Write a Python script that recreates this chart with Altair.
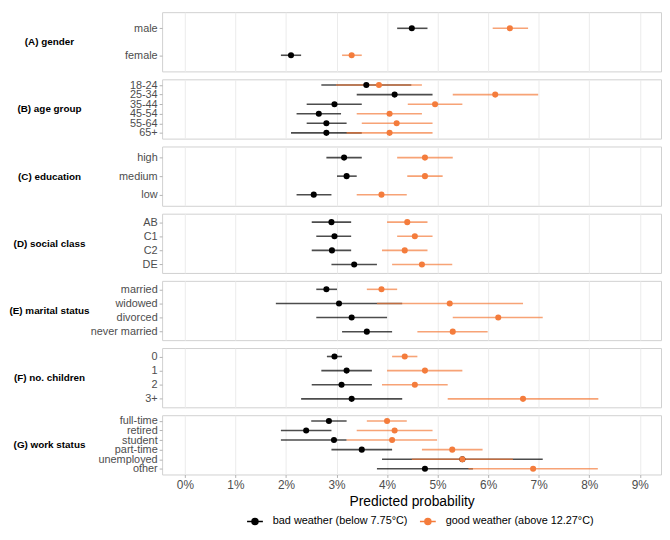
import altair as alt
import pandas as pd

# ---------------- data (percent) ----------------
group_names = [
    "(A) gender", "(B) age group", "(C) education", "(D) social class",
    "(E) marital status", "(F) no. children", "(G) work status",
]
group_levels = [
    ["male", "female"],
    ["18-24", "25-34", "35-44", "45-54", "55-64", "65+"],
    ["high", "medium", "low"],
    ["AB", "C1", "C2", "DE"],
    ["married", "widowed", "divorced", "never married"],
    ["0", "1", "2", "3+"],
    ["full-time", "retired", "student", "part-time", "unemployed", "other"],
]

series_names = ["bad weather (below 7.75°C)", "good weather (above 12.27°C)"]
series_colors = ["#000000", "#F47C3C"]

bad_est = [4.49, 2.10,
           3.59, 4.15, 2.96, 2.65, 2.80, 2.80,
           3.15, 3.20, 2.55,
           2.90, 2.96, 2.91, 3.35,
           2.80, 3.05, 3.30, 3.60,
           2.96, 3.20, 3.10, 3.30,
           2.85, 2.40, 2.95, 3.50, 5.49, 4.75]
bad_lo = [4.20, 1.90,
          2.70, 3.40, 2.41, 2.21, 2.41, 2.10,
          2.80, 3.01, 2.21,
          2.51, 2.60, 2.51, 2.90,
          2.60, 1.80, 2.60, 3.11,
          2.81, 2.70, 2.51, 2.30,
          2.50, 1.90, 1.90, 2.90, 3.90, 3.80]
bad_hi = [4.80, 2.30,
          4.48, 4.90, 3.50, 3.09, 3.20, 3.50,
          3.50, 3.40, 2.90,
          3.29, 3.29, 3.29, 3.80,
          3.01, 4.30, 4.00, 4.10,
          3.11, 3.70, 3.70, 4.30,
          3.20, 2.90, 3.20, 4.10, 7.08, 5.70]

good_est = [6.43, 3.30,
            3.84, 6.14, 4.95, 4.05, 4.19, 4.05,
            4.75, 4.75, 3.89,
            4.40, 4.55, 4.35, 4.69,
            3.89, 5.24, 6.20, 5.30,
            4.35, 4.75, 4.55, 6.69,
            4.00, 4.15, 4.10, 5.29, 5.49, 6.89]
good_lo = [6.09, 3.11,
           2.99, 5.30, 4.41, 3.40, 3.50, 3.20,
           4.20, 4.40, 3.40,
           4.00, 4.20, 3.90, 4.10,
           3.60, 3.80, 5.30, 4.60,
           4.10, 4.00, 3.90, 5.20,
           3.60, 3.40, 3.20, 4.69, 4.49, 5.61]
good_hi = [6.79, 3.50,
           4.69, 6.99, 5.49, 4.69, 4.90, 4.90,
           5.30, 5.10, 4.39,
           4.80, 4.90, 4.80, 5.29,
           4.20, 6.69, 7.08, 5.99,
           4.60, 5.49, 5.20, 8.18,
           4.39, 4.90, 4.99, 5.89, 6.49, 8.17]

tick_values = [0, 1, 2, 3, 4, 5, 6, 7, 8, 9]

# ---------------- table ----------------
rows = []
for s_name, est, lo, hi in [
    (series_names[0], bad_est, bad_lo, bad_hi),
    (series_names[1], good_est, good_lo, good_hi),
]:
    k = 0
    for g, levs in zip(group_names, group_levels):
        for lev in levs:
            rows.append(dict(group=g, level=lev, series=s_name,
                             est=est[k], lo=lo[k], hi=hi[k]))
            k += 1
df = pd.DataFrame(rows)

# ---------------- chart ----------------
PANEL_W = 505
PANEL_H = 60
TITLE_X = -114.5
FONT = "Liberation Sans"

x_scale = alt.Scale(domain=[-0.45, 9.42], nice=False, zero=False)
fill_scale = alt.Scale(domain=series_names, range=series_colors)
stroke_scale = alt.Scale(domain=series_names, range=series_colors)

LEG_PATH = ("M-1,0H1M-0.38,0A0.38,0.38,0,1,0,0.38,0"
            "A0.38,0.38,0,1,0,-0.38,0Z")
leg = alt.Legend(
    title=None, orient="none", legendX=85, legendY=506, padding=0,
    direction="horizontal", symbolType=LEG_PATH, symbolSize=256,
    symbolStrokeWidth=1.5, symbolOpacity=1, labelFontSize=11,
    labelColor="#000000", labelOffset=9, columnPadding=9, labelLimit=300,
    labelFont=FONT,
)


def panel(i):
    g = group_names[i]
    levs = group_levels[i]
    last = i == len(group_names) - 1
    sub = df[df.group == g]
    if last:
        x_axis = alt.Axis(
            values=tick_values, labelExpr="datum.value + '%'",
            title="Predicted probability", grid=True, domain=False,
            ticks=True, tickSize=3, tickColor="#B3B3B3", labelFontSize=12,
            labelColor="#4D4D4D", labelPadding=2, titleFontSize=14,
            titleFontWeight="normal", titleColor="#000000", titlePadding=4,
        )
    else:
        x_axis = alt.Axis(values=tick_values, labels=False, ticks=False,
                          domain=False, title=None, grid=True)
    y_axis = alt.Axis(
        title=g, titleAngle=0, titleAlign="center", titleBaseline="middle",
        titleX=TITLE_X, titleY=PANEL_H / 2, titleFontSize=10,
        titleFontWeight="bold", titleColor="#000000", labelFontSize=11,
        labelColor="#4D4D4D", tickSize=3, tickColor="#B3B3B3",
        labelPadding=2, domain=False, grid=False,
    )
    y_scale = alt.Scale(type="point", domain=levs, padding=0.6)
    base = alt.Chart(sub)
    rules = base.mark_rule(strokeWidth=1.6, opacity=0.7).encode(
        x=alt.X("lo:Q", scale=x_scale, axis=x_axis),
        x2="hi:Q",
        y=alt.Y("level:N", scale=y_scale, axis=y_axis),
        stroke=alt.Stroke("series:N", scale=stroke_scale, legend=leg),
    )
    pts = base.mark_circle(size=38, opacity=1).encode(
        x=alt.X("est:Q", scale=x_scale, axis=x_axis),
        y=alt.Y("level:N", scale=y_scale, axis=y_axis),
        fill=alt.Fill("series:N", scale=fill_scale, legend=leg),
    )
    return alt.layer(rules, pts).properties(width=PANEL_W, height=PANEL_H)


chart = (
    alt.vconcat(*[panel(i) for i in range(len(group_names))], spacing=6)
    .resolve_scale(y="independent")
    .properties(padding={"left": 0, "top": 0, "right": 0, "bottom": 0})
    .configure(font=FONT)
    .configure_view(stroke="#D0D0D0", strokeWidth=1)
    .configure_axis(gridColor="#EBEBEB", gridWidth=1,
                    labelFont=FONT, titleFont=FONT)
)

chart.save("out.html", embed_options={"renderer": "svg", "actions": False})
